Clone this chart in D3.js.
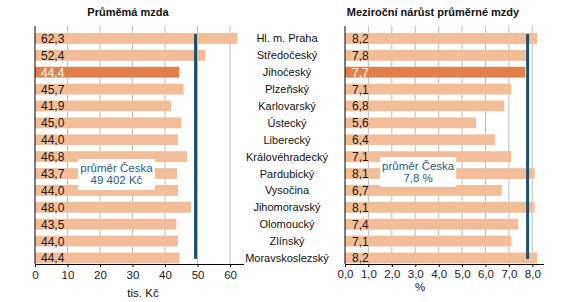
<!DOCTYPE html>
<html>
<head>
<meta charset="utf-8">
<script src="https://cdn.jsdelivr.net/npm/d3@7"></script>
<style>
  body { margin: 0; background: #fff; }
  svg { display: block; font-family: "Liberation Sans", Arial, sans-serif; }
</style>
</head>
<body>
<svg width="567" height="302"></svg>
<script>
// data
var regions = ["Hl. m. Praha", "Středočeský", "Jihočeský", "Plzeňský", "Karlovarský", "Ústecký",
  "Liberecký", "Královéhradecký", "Pardubický", "Vysočina", "Jihomoravský", "Olomoucký",
  "Zlínský", "Moravskoslezský"];
var wage = [62.3, 52.4, 44.4, 45.7, 41.9, 45.0, 44.0, 46.8, 43.7, 44.0, 48.0, 43.5, 44.0, 44.4];
var growth = [8.2, 7.8, 7.7, 7.1, 6.8, 5.6, 6.4, 7.1, 8.1, 6.7, 8.1, 7.4, 7.1, 8.2];
var wageTicks = [0, 10, 20, 30, 40, 50, 60];
var growthTicks = [0, 1, 2, 3, 4, 5, 6, 7, 8];
var avgWage = 49.402;
var avgGrowth = 7.8;
var highlight = "Jihočeský";

var svg = d3.select("svg");
var light = "#f2bd97", dark = "#e2804b", navy = "#1b4e6f", grid = "#bdbdbd";
var fmt = d3.format(".1f");
var comma = function(v) { return fmt(v).replace(".", ","); };

var y = d3.scaleBand().domain(regions).range([30, 266.4]).paddingInner(0.36).paddingOuter(0.18);

function panel(opt) {
  var x = d3.scaleLinear().domain(opt.domain).range(opt.range);
  var g = svg.append("g");
  var top = 26, bottom = 264;

  // grid
  g.selectAll("line.grid").data(opt.ticks.slice(1)).enter().append("line")
    .attr("x1", d => x(d)).attr("x2", d => x(d))
    .attr("y1", top).attr("y2", bottom)
    .attr("stroke", grid).attr("stroke-width", 1);

  // bars
  g.selectAll("rect.bar").data(regions).enter().append("rect")
    .attr("x", x(0))
    .attr("y", d => y(d))
    .attr("width", (d, i) => x(opt.values[i]) - x(0))
    .attr("height", y.bandwidth())
    .attr("fill", d => d == highlight ? dark : light);

  // value labels
  g.selectAll("text.val").data(regions).enter().append("text")
    .attr("x", x(0) + opt.labelPad)
    .attr("y", d => y(d) + y.bandwidth() / 2 + 4.5)
    .attr("font-size", 12)
    .attr("fill", d => d == highlight ? "#fff" : "#1a1a1a")
    .text((d, i) => comma(opt.values[i]));

  // annotation box
  var bx = x(opt.box[0]), bw = x(opt.box[1]) - x(opt.box[0]);
  g.append("rect").attr("x", bx).attr("y", opt.boxY).attr("width", bw).attr("height", opt.boxH)
    .attr("fill", "#fff");
  var t = g.append("text").attr("text-anchor", "middle").attr("font-size", 11.5).attr("fill", "#1f5e87");
  t.append("tspan").attr("x", bx + bw / 2).attr("y", opt.boxY + 12.5).text("průměr Česka");
  t.append("tspan").attr("x", bx + bw / 2).attr("y", opt.boxY + 25).text(opt.boxText);

  // mean line
  g.append("line")
    .attr("x1", x(opt.avg)).attr("x2", x(opt.avg))
    .attr("y1", y(regions[0]) + 1)
    .attr("y2", y(regions[regions.length - 1]) + y.bandwidth() / 2 + 1)
    .attr("stroke", navy).attr("stroke-width", 3);

  // axes
  g.append("line").attr("x1", x(0)).attr("x2", x(0)).attr("y1", top).attr("y2", bottom)
    .attr("stroke", "#000");
  var ax = g.append("g").attr("transform", "translate(0," + bottom + ")")
    .call(d3.axisBottom(x).tickValues(opt.ticks).tickFormat(opt.tickFormat).tickSize(3).tickPadding(opt.tickPad));
  ax.select(".domain").attr("d", "M" + x(0) + ",0.5H" + opt.range[1]).attr("stroke", "#000");
  ax.selectAll(".tick line").attr("stroke", "#000");
  ax.selectAll(".tick text").attr("font-size", 11.5).attr("fill", "#1a1a2a").attr("font-family", null);

  // titles
  svg.append("text").attr("x", opt.titleX).attr("y", 16).attr("text-anchor", "middle")
    .attr("font-size", 11).attr("font-weight", "bold").attr("fill", "#111").text(opt.title);
  svg.append("text").attr("x", opt.unitX).attr("y", opt.unitY).attr("text-anchor", "middle")
    .attr("font-size", 11.5).attr("fill", "#111").text(opt.unit);
}

panel({
  domain: [0, 64.3], range: [35, 244], ticks: wageTicks, values: wage, avg: avgWage,
  tickFormat: d3.format("d"), labelPad: 6, tickPad: 4,
  box: [13.2, 36.9], boxY: 159, boxH: 31, boxText: "49 402 Kč",
  title: "Průměmá mzda", titleX: 128, unit: "tis. Kč", unitX: 143, unitY: 297
});

panel({
  domain: [0, 8.5], range: [345, 544], ticks: growthTicks, values: growth, avg: avgGrowth,
  tickFormat: comma, labelPad: 7, tickPad: 2.5,
  box: [1.5, 4.75], boxY: 157, boxH: 30, boxText: "7,8 %",
  title: "Meziroční nárůst průměrné mzdy", titleX: 433, unit: "%", unitX: 420, unitY: 291
});

// category labels between the panels
svg.append("g").selectAll("text").data(regions).enter().append("text")
  .attr("x", 287)
  .attr("y", d => y(d) + y.bandwidth() / 2 + 4)
  .attr("text-anchor", "middle")
  .attr("font-size", 11)
  .attr("fill", "#111")
  .text(d => d);
</script>
</body>
</html>
